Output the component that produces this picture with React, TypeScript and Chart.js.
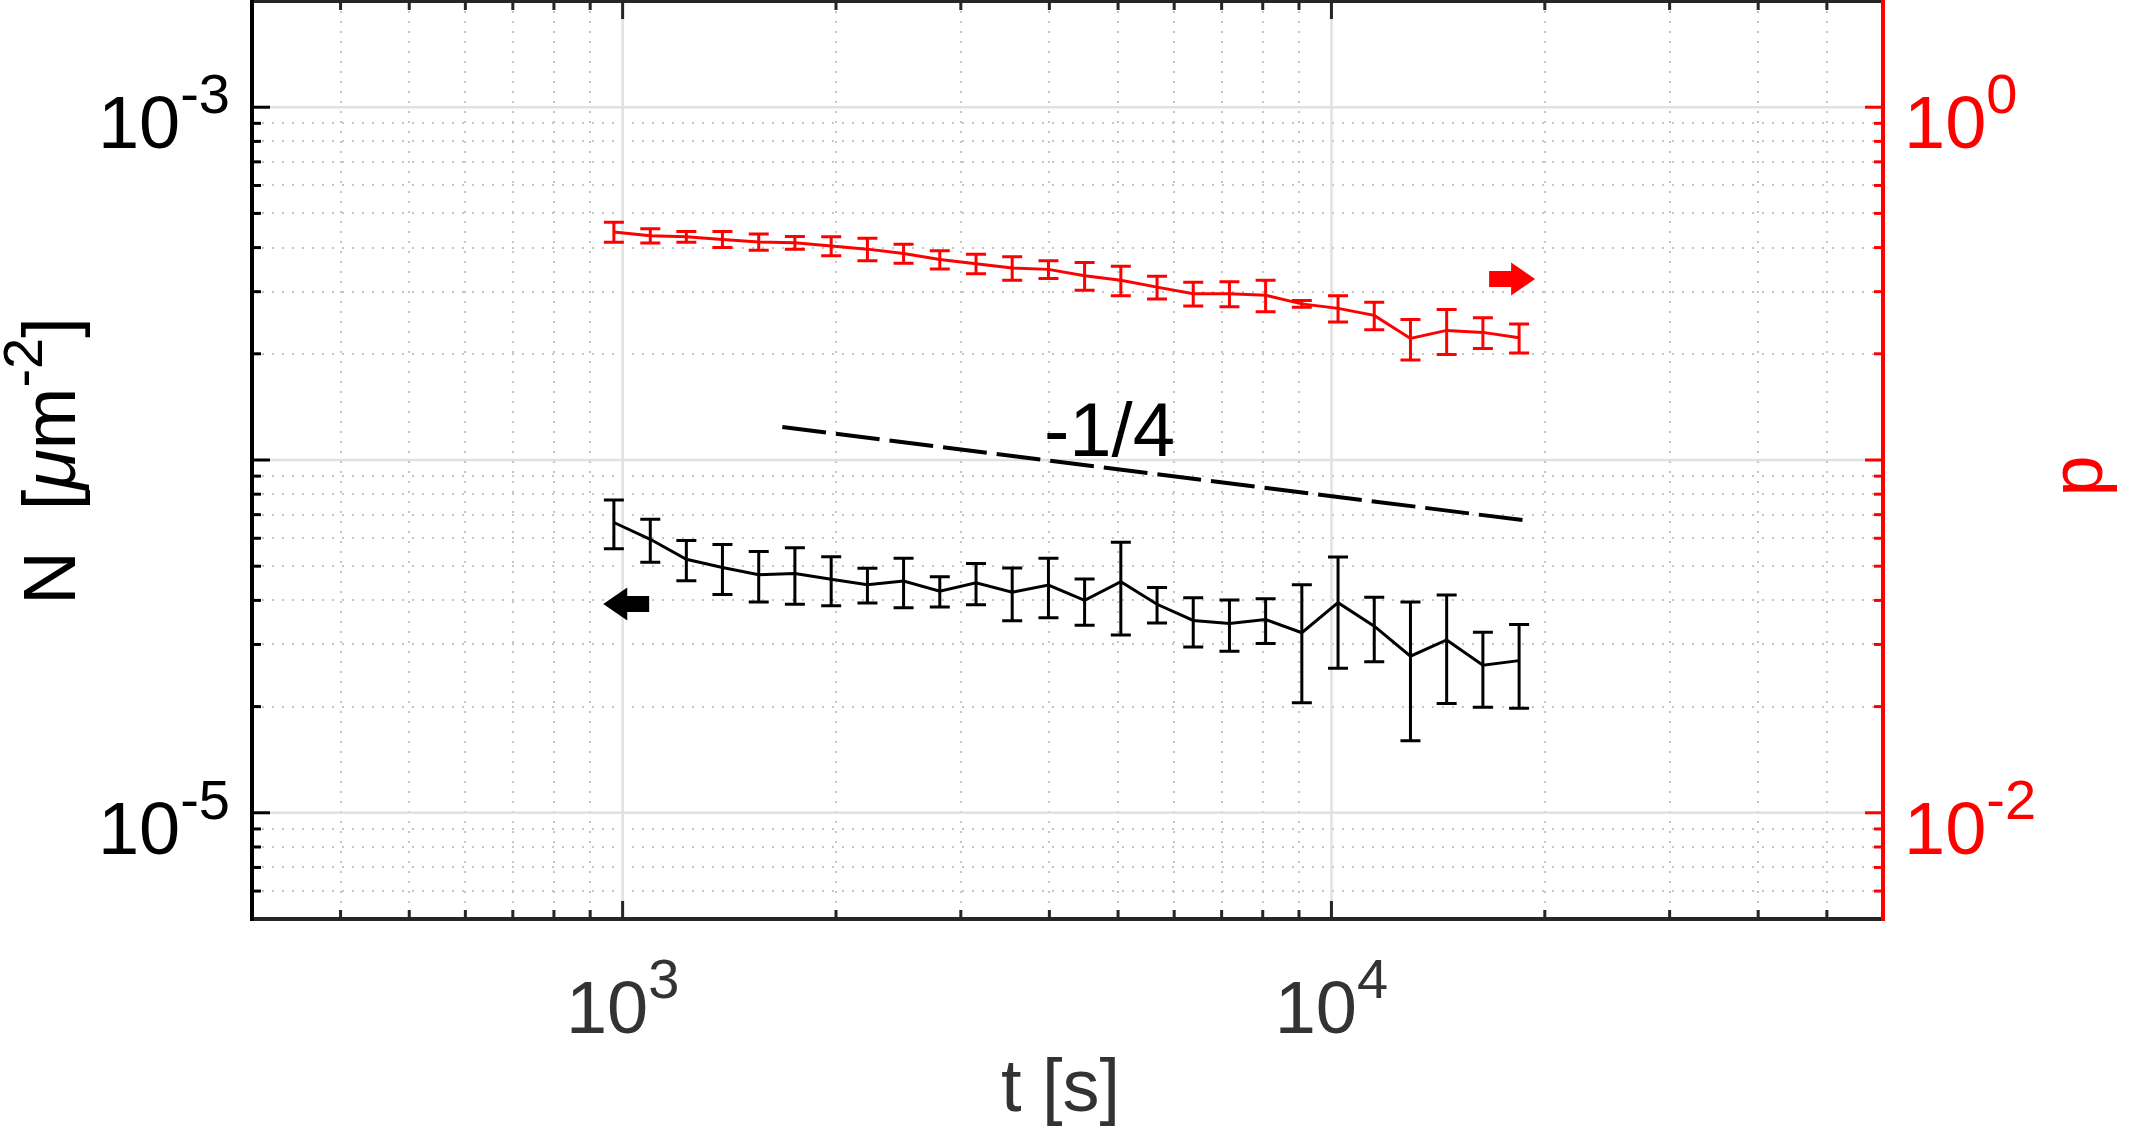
import React, { useEffect, useRef } from "react";
import { Chart, registerables } from "chart.js";

Chart.register(...registerables);

const FONT = '"Liberation Sans", Arial, Helvetica, sans-serif';

// ---------------- data ----------------
const times = [
  972, 1094, 1230, 1383, 1556, 1750, 1969, 2215, 2491, 2802, 3152, 3545, 3988,
  4485, 5045, 5675, 6383, 7180, 8075, 9083, 10217, 11492, 12927, 14540, 16356, 18398,
];
const nValues = [
  6.65e-5, 5.96e-5, 5.23e-5, 4.96e-5, 4.73e-5, 4.77e-5, 4.59e-5, 4.43e-5, 4.54e-5,
  4.25e-5, 4.49e-5, 4.22e-5, 4.42e-5, 4.0e-5, 4.52e-5, 3.9e-5, 3.51e-5, 3.44e-5,
  3.53e-5, 3.24e-5, 3.94e-5, 3.38e-5, 2.78e-5, 3.09e-5, 2.62e-5, 2.7e-5,
];
const nErrors = [
  1.05e-5, 0.83e-5, 0.68e-5, 0.8e-5, 0.77e-5, 0.87e-5, 0.73e-5, 0.5e-5, 0.73e-5,
  0.42e-5, 0.6e-5, 0.72e-5, 0.85e-5, 0.6e-5, 1.33e-5, 0.45e-5, 0.56e-5, 0.57e-5,
  0.51e-5, 1.19e-5, 1.37e-5, 0.7e-5, 1.18e-5, 1.05e-5, 0.63e-5, 0.72e-5,
];
const pValues = [
  0.443, 0.432, 0.429, 0.422, 0.415, 0.413, 0.404, 0.396, 0.385, 0.37, 0.36, 0.35,
  0.347, 0.333, 0.323, 0.309, 0.296, 0.296, 0.293, 0.277, 0.269, 0.257, 0.221,
  0.233, 0.23, 0.222,
];
const pErrors = [
  0.029, 0.02, 0.015, 0.022, 0.022, 0.017, 0.025, 0.029, 0.024, 0.022, 0.023, 0.027,
  0.02, 0.03, 0.031, 0.023, 0.023, 0.024, 0.03, 0.006, 0.023, 0.023, 0.029, 0.034,
  0.023, 0.021,
];
// reference slope line (-1/4)
const slopeTimes = [1680, 19100];
const slopeN = [1.24e-4, 6.71e-5];
const slopeLabel = "-1/4";

// ---------------- axes / ticks ----------------
const xMin = 300;
const xMax = 60000;
const nMin = 5e-6;
const nMax = 2e-3;
const pMin = 5e-3;
const pMax = 2;

const xMajorTicks = [1e3, 1e4];
const xTickExponents = ["3", "4"];
const xMinorTicks = [
  400, 500, 600, 700, 800, 900, 2000, 3000, 4000, 5000, 6000, 7000, 8000, 9000,
  20000, 30000, 40000, 50000,
];
const nMajorTicks = [1e-5, 1e-4, 1e-3];
const nLabelTicks = [1e-5, 1e-3];
const nTickExponents = ["-5", "-3"];
const nMinorTicks = [
  6e-6, 7e-6, 8e-6, 9e-6, 2e-5, 3e-5, 4e-5, 5e-5, 6e-5, 7e-5, 8e-5, 9e-5, 2e-4, 3e-4,
  4e-4, 5e-4, 6e-4, 7e-4, 8e-4, 9e-4,
];
const pMajorTicks = [1e-2, 1e-1, 1];
const pLabelTicks = [1e-2, 1];
const pTickExponents = ["-2", "0"];
const pMinorTicks = [
  6e-3, 7e-3, 8e-3, 9e-3, 2e-2, 3e-2, 4e-2, 5e-2, 6e-2, 7e-2, 8e-2, 9e-2, 0.2, 0.3,
  0.4, 0.5, 0.6, 0.7, 0.8, 0.9,
];

// annotation arrows (data coordinates)
const blackArrow = { tailT: 1090, tipT: 939, value: 3.91e-5 };
const redArrow = { tailT: 16690, tipT: 19380, value: 0.3257 };

const X_COLOR = "#262626";
const X_TEXT = "#333333";
const RED = "#ff0000";

type Seg = { text: string; size: number; raise?: number; italic?: boolean };

function fontOf(s: Seg) {
  return `${s.italic ? "italic " : ""}${s.size}px ${FONT}`;
}

function drawRich(
  ctx: CanvasRenderingContext2D,
  segs: Seg[],
  x: number,
  y: number,
  align: "left" | "center" | "right",
  color: string,
  rotate = 0
) {
  ctx.save();
  ctx.translate(x, y);
  if (rotate) ctx.rotate(rotate);
  ctx.fillStyle = color;
  ctx.textBaseline = "alphabetic";
  ctx.textAlign = "left";
  let total = 0;
  const widths = segs.map((s) => {
    ctx.font = fontOf(s);
    const w = ctx.measureText(s.text).width;
    total += w;
    return w;
  });
  let cx = align === "left" ? 0 : align === "center" ? -total / 2 : -total;
  segs.forEach((s, i) => {
    ctx.font = fontOf(s);
    ctx.fillText(s.text, cx, -(s.raise || 0));
    cx += widths[i];
  });
  ctx.restore();
}

const BASE = 74;
const SUP = 56;
const SUP_RAISE = 35;

const matlabPlugin = {
  id: "matlabAxes",
  beforeDatasetsDraw(chart: any) {
    const ctx: CanvasRenderingContext2D = chart.ctx;
    const { left, right, top, bottom } = chart.chartArea;
    const xs = chart.scales.x;
    const yn = chart.scales.yN;
    ctx.save();
    ctx.beginPath();
    ctx.rect(left, top, right - left, bottom - top);
    ctx.clip();
    // minor dotted grid
    ctx.strokeStyle = "#c4c4c4";
    ctx.lineWidth = 2;
    ctx.setLineDash([2, 8]);
    xMinorTicks.forEach((v) => {
      const px = Math.round(xs.getPixelForValue(v));
      ctx.beginPath();
      ctx.moveTo(px, top);
      ctx.lineTo(px, bottom);
      ctx.stroke();
    });
    nMinorTicks.forEach((v) => {
      const py = Math.round(yn.getPixelForValue(v));
      ctx.beginPath();
      ctx.moveTo(left, py);
      ctx.lineTo(right, py);
      ctx.stroke();
    });
    // major solid grid
    ctx.setLineDash([]);
    ctx.strokeStyle = "#e1e1e1";
    ctx.lineWidth = 2.5;
    xMajorTicks.forEach((v) => {
      const px = xs.getPixelForValue(v);
      ctx.beginPath();
      ctx.moveTo(px, top);
      ctx.lineTo(px, bottom);
      ctx.stroke();
    });
    nMajorTicks.forEach((v) => {
      const py = yn.getPixelForValue(v);
      ctx.beginPath();
      ctx.moveTo(left, py);
      ctx.lineTo(right, py);
      ctx.stroke();
    });
    ctx.restore();
  },
  afterDatasetsDraw(chart: any) {
    const ctx: CanvasRenderingContext2D = chart.ctx;
    const { left, right, top, bottom } = chart.chartArea;
    const xs = chart.scales.x;
    const yn = chart.scales.yN;
    const yp = chart.scales.yP;

    // error bars
    const drawErr = (vals: number[], errs: number[], scale: any, color: string) => {
      ctx.save();
      ctx.strokeStyle = color;
      ctx.lineWidth = 3;
      ctx.lineCap = "butt";
      const cap = 10;
      times.forEach((t, i) => {
        const px = xs.getPixelForValue(t);
        const y1 = scale.getPixelForValue(vals[i] + errs[i]);
        const y2 = scale.getPixelForValue(vals[i] - errs[i]);
        ctx.beginPath();
        ctx.moveTo(px, y1);
        ctx.lineTo(px, y2);
        ctx.moveTo(px - cap, y1);
        ctx.lineTo(px + cap, y1);
        ctx.moveTo(px - cap, y2);
        ctx.lineTo(px + cap, y2);
        ctx.stroke();
      });
      ctx.restore();
    };
    drawErr(nValues, nErrors, yn, "#000000");
    drawErr(pValues, pErrors, yp, RED);

    // arrows
    const drawArrow = (a: { tailT: number; tipT: number; value: number }, scale: any, color: string) => {
      const x0 = xs.getPixelForValue(a.tailT);
      const x1 = xs.getPixelForValue(a.tipT);
      const y = scale.getPixelForValue(a.value);
      const d = Math.sign(x1 - x0);
      const head = 24;
      const hw = 16.5;
      const bw = 8;
      const xh = x1 - d * head;
      ctx.save();
      ctx.fillStyle = color;
      ctx.beginPath();
      ctx.moveTo(x0, y - bw);
      ctx.lineTo(xh, y - bw);
      ctx.lineTo(xh, y - hw);
      ctx.lineTo(x1, y);
      ctx.lineTo(xh, y + hw);
      ctx.lineTo(xh, y + bw);
      ctx.lineTo(x0, y + bw);
      ctx.closePath();
      ctx.fill();
      ctx.restore();
    };
    drawArrow(blackArrow, yn, "#000000");
    drawArrow(redArrow, yp, RED);

    // slope label
    ctx.save();
    ctx.fillStyle = "#000000";
    ctx.font = `76px ${FONT}`;
    ctx.textAlign = "left";
    ctx.textBaseline = "alphabetic";
    ctx.fillText(slopeLabel, xs.getPixelForValue(3930), yn.getPixelForValue(1.027e-4));
    ctx.restore();

    // axes lines and ticks
    ctx.save();
    ctx.lineCap = "butt";
    const AX_W = 4;
    const TICK_W = 3;
    const MAJ = 18;
    const MIN = 9;
    // x axis (bottom + top)
    ctx.strokeStyle = X_COLOR;
    ctx.lineWidth = TICK_W;
    const xTick = (v: number, len: number) => {
      const px = xs.getPixelForValue(v);
      ctx.beginPath();
      ctx.moveTo(px, bottom);
      ctx.lineTo(px, bottom - len);
      ctx.moveTo(px, top);
      ctx.lineTo(px, top + len);
      ctx.stroke();
    };
    xMinorTicks.forEach((v) => xTick(v, MIN));
    xMajorTicks.forEach((v) => xTick(v, MAJ));
    ctx.lineWidth = AX_W;
    ctx.beginPath();
    ctx.moveTo(left, bottom);
    ctx.lineTo(right, bottom);
    ctx.moveTo(left, top);
    ctx.lineTo(right, top);
    ctx.stroke();
    // left axis
    ctx.strokeStyle = "#000000";
    ctx.lineWidth = TICK_W;
    const yTick = (scale: any, v: number, len: number, x0: number, dir: number) => {
      const py = scale.getPixelForValue(v);
      ctx.beginPath();
      ctx.moveTo(x0, py);
      ctx.lineTo(x0 + dir * len, py);
      ctx.stroke();
    };
    nMinorTicks.forEach((v) => yTick(yn, v, MIN, left, 1));
    nMajorTicks.forEach((v) => yTick(yn, v, MAJ, left, 1));
    ctx.lineWidth = AX_W;
    ctx.beginPath();
    ctx.moveTo(left, top - AX_W / 2);
    ctx.lineTo(left, bottom + AX_W / 2);
    ctx.stroke();
    // right axis
    ctx.strokeStyle = RED;
    ctx.lineWidth = TICK_W;
    pMinorTicks.forEach((v) => yTick(yp, v, MIN, right, -1));
    pMajorTicks.forEach((v) => yTick(yp, v, MAJ, right, -1));
    ctx.lineWidth = AX_W;
    ctx.beginPath();
    ctx.moveTo(right, top - AX_W / 2);
    ctx.lineTo(right, bottom + AX_W / 2);
    ctx.stroke();
    ctx.restore();

    // tick labels
    xMajorTicks.forEach((v, i) => {
      drawRich(
        ctx,
        [
          { text: "10", size: BASE },
          { text: xTickExponents[i], size: SUP, raise: SUP_RAISE },
        ],
        xs.getPixelForValue(v),
        bottom + 114,
        "center",
        X_TEXT
      );
    });
    nLabelTicks.forEach((v, i) => {
      drawRich(
        ctx,
        [
          { text: "10", size: BASE },
          { text: nTickExponents[i], size: SUP, raise: SUP_RAISE },
        ],
        left - 22,
        yn.getPixelForValue(v) + 41,
        "right",
        "#000000"
      );
    });
    pLabelTicks.forEach((v, i) => {
      drawRich(
        ctx,
        [
          { text: "10", size: BASE },
          { text: pTickExponents[i], size: SUP, raise: SUP_RAISE },
        ],
        right + 21,
        yp.getPixelForValue(v) + 41,
        "left",
        RED
      );
    });

    // axis labels
    drawRich(ctx, [{ text: "t [s]", size: BASE }], (left + right) / 2 - 7, 1111, "center", X_TEXT);
    drawRich(
      ctx,
      [
        { text: "N  [", size: BASE },
        { text: "μ", size: BASE, italic: true },
        { text: "m", size: BASE },
        { text: "-2", size: SUP, raise: 33 },
        { text: "]", size: BASE },
      ],
      75,
      (top + bottom) / 2 + 1,
      "center",
      "#000000",
      -Math.PI / 2
    );
    drawRich(ctx, [{ text: "p", size: BASE }], 2102, 476, "center", RED, -Math.PI / 2);
  },
};

export default function App() {
  const canvasRef = useRef<HTMLCanvasElement | null>(null);

  useEffect(() => {
    const canvas = canvasRef.current;
    if (!canvas) return;
    const chart = new Chart(canvas, {
      type: "line",
      data: {
        datasets: [
          {
            label: "N",
            data: times.map((t, i) => ({ x: t, y: nValues[i] })),
            yAxisID: "yN",
            borderColor: "#000000",
            borderWidth: 3,
            pointRadius: 0,
            tension: 0,
            fill: false,
          },
          {
            label: "p",
            data: times.map((t, i) => ({ x: t, y: pValues[i] })),
            yAxisID: "yP",
            borderColor: RED,
            borderWidth: 3,
            pointRadius: 0,
            tension: 0,
            fill: false,
          },
          {
            label: "slope",
            data: slopeTimes.map((t, i) => ({ x: t, y: slopeN[i] })),
            yAxisID: "yN",
            borderColor: "#000000",
            borderWidth: 4,
            borderDash: [44, 10],
            pointRadius: 0,
            tension: 0,
            fill: false,
          },
        ],
      },
      options: {
        responsive: false,
        animation: false,
        devicePixelRatio: 1,
        layout: { padding: { top: 1, left: 0, right: 0, bottom: 0 } },
        plugins: { legend: { display: false }, tooltip: { enabled: false } },
        events: [],
        scales: {
          x: {
            type: "logarithmic",
            position: "bottom",
            min: xMin,
            max: xMax,
            grid: { display: false },
            border: { display: false },
            ticks: { display: false },
            afterFit: (s: any) => {
              s.height = 207;
            },
          },
          yN: {
            type: "logarithmic",
            position: "left",
            min: nMin,
            max: nMax,
            grid: { display: false },
            border: { display: false },
            ticks: { display: false },
            afterFit: (s: any) => {
              s.width = 252;
            },
          },
          yP: {
            type: "logarithmic",
            position: "right",
            min: pMin,
            max: pMax,
            grid: { display: false },
            border: { display: false },
            ticks: { display: false },
            afterFit: (s: any) => {
              s.width = 252;
            },
          },
        },
      } as any,
      plugins: [matlabPlugin as any],
    });
    return () => chart.destroy();
  }, []);

  return (
    <div style={{ position: "fixed", left: 0, top: 0, width: 2135, height: 1126, background: "#ffffff" }}>
      <canvas ref={canvasRef} width={2135} height={1126} style={{ display: "block" }} />
    </div>
  );
}
